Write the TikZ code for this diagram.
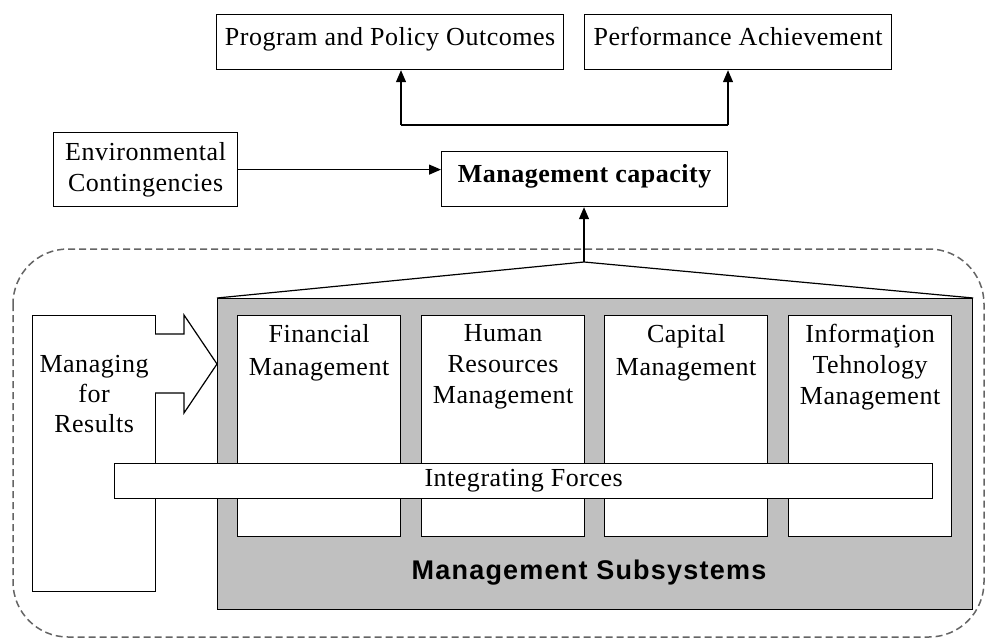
\documentclass[tikz,border=0pt]{standalone}
\usepackage{fontspec}
\setmainfont{Liberation Serif}[LetterSpace=2]
\newfontfamily\subsysfont{Liberation Sans}[LetterSpace=4.5]
\usetikzlibrary{calc,positioning,arrows.meta}
\definecolor{subgray}{RGB}{192,192,192}
\definecolor{dashgray}{RGB}{100,100,100}

\begin{document}
\begin{tikzpicture}[x=1pt,y=-1pt,
    box/.style={draw, line width=1.2pt, fill=white, inner sep=0pt, anchor=north west, align=center, font=\fontsize{26}{31}\selectfont},
    oneline/.style={text height=18pt, text depth=12pt},
    txt/.style={inner sep=0pt, align=center, font=\fontsize{26}{31}\selectfont},
    arr/.style={line width=1.2pt, -{Triangle[length=12pt,width=10pt]}}]
        \useasboundingbox (0,0) rectangle (985,639);
        % frame
        \draw[dashgray, line width=1.5pt, dash pattern=on 7pt off 4pt, rounded corners=55pt] (13,249) rectangle (984,637);

        % top boxes
        \node[box, oneline, minimum width=347pt, minimum height=55pt] (ppo) at (216,14) {Program and Policy Outcomes};
        \node[box, oneline, minimum width=307pt, minimum height=55pt] (pa) at (584,14) {Performance Achievement};
        \node[box, minimum width=184pt, minimum height=74pt] (env) at (53,132) {Environmental\\Contingencies};
        \node[box, oneline, minimum width=286pt, minimum height=55pt, font=\fontsize{26}{31}\selectfont\bfseries] (cap) at (441,151) {Management capacity};

        % coordinates
        \coordinate (jl) at (401,125);
        \coordinate (jr) at (728,125);
        \coordinate (apex) at (584,262);

        % arrows
        \draw[line width=1.2pt] (jl) -- (jr);
        \draw[arr] (jl) -- (jl |- ppo.south);
        \draw[arr] (jr) -- (jr |- pa.south);
        \draw[arr] (env.east) -- (env.east -| cap.west);
        \draw[arr] (apex) -- (apex |- cap.south);

        % subsystems
        \node[box, fill=subgray, minimum width=755pt, minimum height=311pt] (subsys) at (217,298) {};
        \draw[line width=1.2pt] (subsys.north west) -- (apex) -- (subsys.north east);
        \node[box, minimum width=123pt, minimum height=276pt] (mfr) at (32,315) {};
        \draw[line width=1.2pt, fill=white] (155,334) -- (184,334) -- (184,315) -- (217,364) -- (184,413) -- (184,393) -- (155,393);
        \node[box, minimum width=163pt, minimum height=221pt] (fin) at (237,315) {};
        \node[box, minimum width=163pt, minimum height=221pt] (hrm) at (421,315) {};
        \node[box, minimum width=163pt, minimum height=221pt] (cpm) at (604,315) {};
        \node[box, minimum width=163pt, minimum height=221pt] (itm) at (788,315) {};
        \node[box, minimum width=818pt, minimum height=35pt] (intf) at (114,463) {Integrating Forces};

        % Text
        \node[txt, below=40pt of mfr.north, font=\fontsize{26}{30}\selectfont] (mfrtxt) {Managing\\for\\Results};
        \node[txt, below=9pt of fin.north, font=\fontsize{26}{33}\selectfont] (fintxt) {Financial\\Management};
        \node[txt, below=9pt of hrm.north] (hrmtxt) {Human\\Resources\\Management};
        \node[txt, below=9pt of cpm.north, font=\fontsize{26}{33}\selectfont] (cpmtxt) {Capital\\Management};
        \node[txt, below=9pt of itm.north] (itmtxt) {Informaţion\\Tehnology\\Management};
        \node[inner sep=0pt, font=\fontsize{27}{32}\subsysfont\bfseries] (subtxt) at (589,573) {Management Subsystems};
    \end{tikzpicture}
\end{document}
